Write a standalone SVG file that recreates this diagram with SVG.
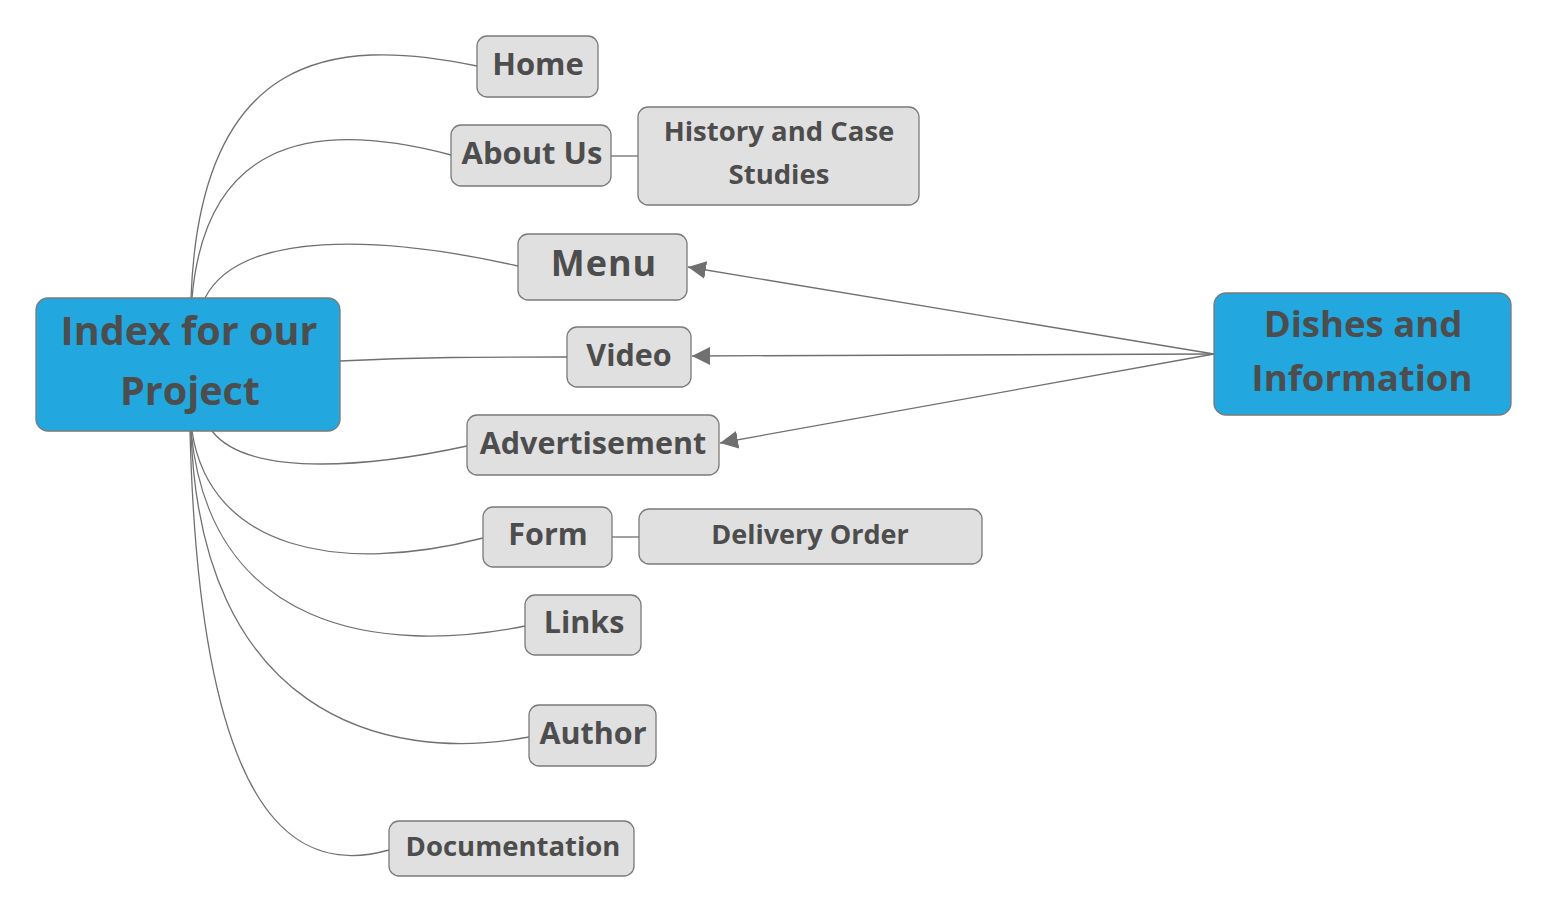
<svg xmlns="http://www.w3.org/2000/svg" width="1549" height="914" viewBox="0 0 1549 914">
<style>
.n{fill:#e0e0e0;stroke:#7a7a7a;stroke-width:1.3}
.m{fill:#22a7df;stroke:#7a7a7a;stroke-width:1.3}
text{font-family:"Open Sans","Noto Sans",sans-serif;font-weight:bold;fill:#4d4d4d;text-anchor:middle}
.c{fill:none;stroke:#707070;stroke-width:1.3}
</style>
<defs>
<marker id="ah" viewBox="0 0 10 10" refX="10" refY="5" markerWidth="18" markerHeight="18" markerUnits="userSpaceOnUse" orient="auto">
<path d="M0,0 L10,5 L0,10 z" fill="#707070"/>
</marker>
</defs>
<g id="connectors">
<path class="c" d="M191,298 C200,55 330,35 477,66"/>
<path class="c" d="M192,298 C205,150 300,115 451,155"/>
<path class="c" d="M205,298 C240,230 380,235 518,266"/>
<path class="c" d="M340,361 C420,357 480,357 567,357"/>
<path class="c" d="M212,431 C250,480 380,465 467,446"/>
<path class="c" d="M192,431 C210,550 340,575 483,538"/>
<path class="c" d="M191,431 C210,630 380,655 525,626"/>
<path class="c" d="M191,431 C200,710 380,765 529,737"/>
<path class="c" d="M190,431 C200,830 300,875 389,850"/>
<path class="c" d="M611,156 L638,156"/>
<path class="c" d="M612,537 L639,537"/>
<path class="c" d="M1214,354 L688,267" marker-end="url(#ah)"/>
<path class="c" d="M1214,354 L692,356" marker-end="url(#ah)"/>
<path class="c" d="M1214,354 L720,443" marker-end="url(#ah)"/>
</g>
<g id="root"><rect class="m" x="36" y="298" width="304" height="133" rx="12"/>
<text x="189" y="345" font-size="39.5">Index for our</text><text x="190" y="405" font-size="39.5">Project</text></g>
<g id="dishes"><rect class="m" x="1214" y="293" width="297" height="122" rx="12"/>
<text x="1363" y="337" font-size="36.5">Dishes and</text><text x="1362" y="391" font-size="36.5">Information</text></g>
<g id="home"><rect class="n" x="477" y="36" width="121" height="61" rx="10"/><text x="538" y="75" font-size="31">Home</text></g>
<g id="about"><rect class="n" x="451" y="125" width="160" height="61" rx="10"/><text x="532" y="164" font-size="31">About Us</text></g>
<g id="history"><rect class="n" x="638" y="107" width="281" height="98" rx="10"/>
<text x="779" y="141" font-size="27.5">History and Case</text><text x="779" y="184" font-size="27.5">Studies</text></g>
<g id="menu"><rect class="n" x="518" y="234" width="169" height="66" rx="10"/><text x="604" y="276" font-size="36" letter-spacing="1">Menu</text></g>
<g id="video"><rect class="n" x="567" y="327" width="124" height="60" rx="10"/><text x="629" y="366" font-size="30.5">Video</text></g>
<g id="advert"><rect class="n" x="467" y="415" width="252" height="60" rx="10"/><text x="593" y="454" font-size="30.5">Advertisement</text></g>
<g id="form"><rect class="n" x="483" y="507" width="129" height="60" rx="10"/><text x="548" y="545" font-size="30.5">Form</text></g>
<g id="delivery"><rect class="n" x="639" y="509" width="343" height="55" rx="10"/><text x="810" y="544" font-size="27">Delivery Order</text></g>
<g id="links"><rect class="n" x="525" y="595" width="116" height="60" rx="10"/><text x="584" y="633" font-size="30.5">Links</text></g>
<g id="author"><rect class="n" x="529" y="705" width="127" height="61" rx="10"/><text x="593" y="744" font-size="30.5">Author</text></g>
<g id="doc"><rect class="n" x="389" y="821" width="245" height="55" rx="10"/><text x="513" y="856" font-size="27.5">Documentation</text></g>
</svg>
